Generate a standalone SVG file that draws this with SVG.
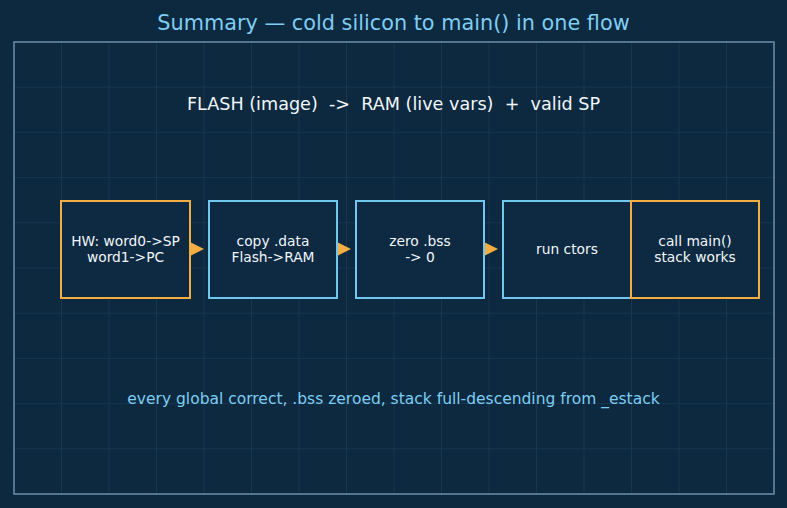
<svg xmlns="http://www.w3.org/2000/svg" width="787" height="508" viewBox="0 0 787 508">
<defs>
<style>
.grid line{stroke:#18374f;stroke-width:1}
.box{fill:#0d2a42;stroke-width:2}
.blue{stroke:#72c7ee}
.orange{stroke:#f2ae43}
.lbl{font-family:"DejaVu Sans",sans-serif;font-size:13.8px;fill:#f2f6fa;text-anchor:middle}
.arrow{fill:#f2ae43}
</style>
</defs>
<rect width="787" height="508" fill="#0c2940"/>
<g class="grid">
<line x1="61.5" y1="42" x2="61.5" y2="494"/><line x1="109" y1="42" x2="109" y2="494"/><line x1="156.5" y1="42" x2="156.5" y2="494"/><line x1="204" y1="42" x2="204" y2="494"/><line x1="251.5" y1="42" x2="251.5" y2="494"/><line x1="299" y1="42" x2="299" y2="494"/><line x1="346.5" y1="42" x2="346.5" y2="494"/><line x1="394" y1="42" x2="394" y2="494"/><line x1="441.5" y1="42" x2="441.5" y2="494"/><line x1="489" y1="42" x2="489" y2="494"/><line x1="536.5" y1="42" x2="536.5" y2="494"/><line x1="584" y1="42" x2="584" y2="494"/><line x1="631.5" y1="42" x2="631.5" y2="494"/><line x1="679" y1="42" x2="679" y2="494"/><line x1="726.5" y1="42" x2="726.5" y2="494"/>
<line x1="14" y1="87.2" x2="774" y2="87.2"/><line x1="14" y1="132.4" x2="774" y2="132.4"/><line x1="14" y1="177.6" x2="774" y2="177.6"/><line x1="14" y1="222.8" x2="774" y2="222.8"/><line x1="14" y1="268" x2="774" y2="268"/><line x1="14" y1="313.2" x2="774" y2="313.2"/><line x1="14" y1="358.4" x2="774" y2="358.4"/><line x1="14" y1="403.6" x2="774" y2="403.6"/><line x1="14" y1="448.8" x2="774" y2="448.8"/>
</g>
<rect x="14" y="42" width="760" height="452" fill="none" stroke="#6a8fab" stroke-width="1.5"/>
<text x="393.5" y="30" font-family="DejaVu Sans,sans-serif" font-size="20.8" fill="#7fcdf2" text-anchor="middle">Summary — cold silicon to main() in one flow</text>
<text x="393.5" y="110" font-family="DejaVu Sans,sans-serif" font-size="17.6" fill="#f2f6fa" text-anchor="middle" xml:space="preserve">FLASH (image)  -&gt;  RAM (live vars)  +  valid SP</text>
<g id="connectors">
<polygon class="arrow" points="190,242 204,249 190,256"/>
<polygon class="arrow" points="337,242 351,249 337,256"/>
<polygon class="arrow" points="484,242 498,249 484,256"/>
</g>
<g id="n1"><rect class="box orange" x="61" y="201" width="129" height="97"/><text class="lbl" x="125.5" y="246">HW: word0-&gt;SP</text><text class="lbl" x="125.5" y="262">word1-&gt;PC</text></g>
<g id="n2"><rect class="box blue" x="209" y="201" width="128" height="97"/><text class="lbl" x="273" y="246">copy .data</text><text class="lbl" x="273" y="262">Flash-&gt;RAM</text></g>
<g id="n3"><rect class="box blue" x="356" y="201" width="128" height="97"/><text class="lbl" x="420" y="246">zero .bss</text><text class="lbl" x="420" y="262">-&gt; 0</text></g>
<g id="n4"><rect class="box blue" x="503" y="201" width="128" height="97"/><text class="lbl" x="567" y="254">run ctors</text></g>
<g id="n5"><rect class="box orange" x="631" y="201" width="128" height="97"/><text class="lbl" x="695" y="246">call main()</text><text class="lbl" x="695" y="262">stack works</text></g>
<text x="393.5" y="404" font-family="DejaVu Sans,sans-serif" font-size="15.5" fill="#7fcdf2" text-anchor="middle">every global correct, .bss zeroed, stack full-descending from _estack</text>
</svg>
